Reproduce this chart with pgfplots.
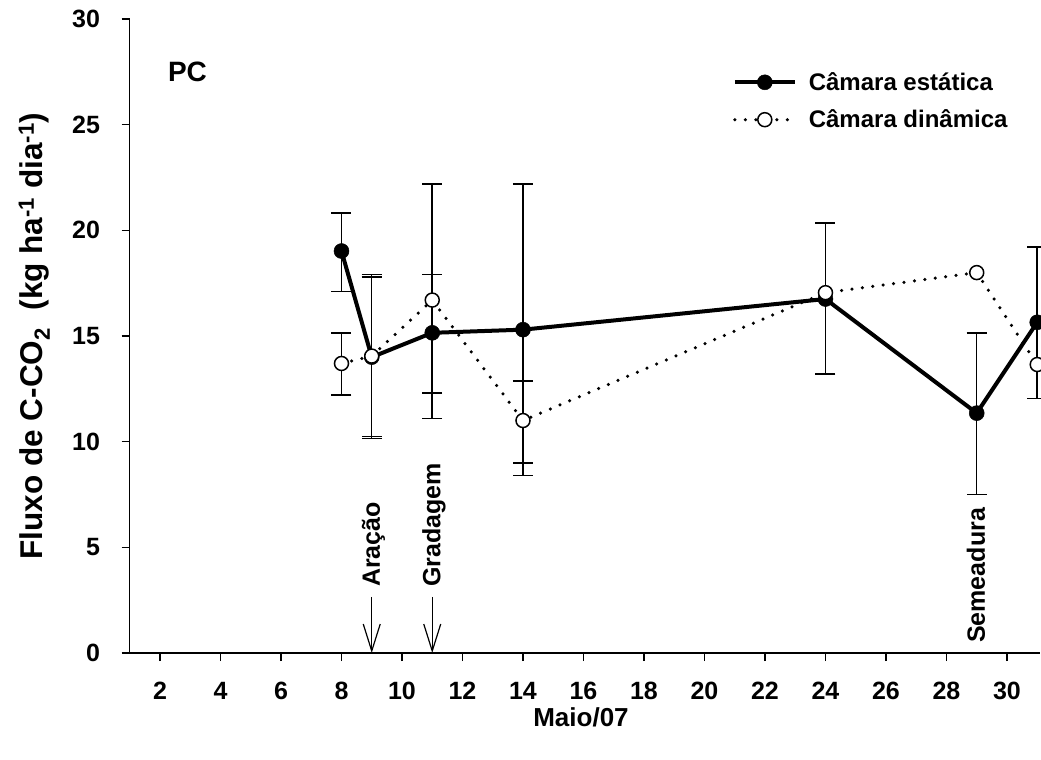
\documentclass[border=0pt]{standalone}
\usepackage{fontspec}
\setmainfont{Liberation Sans}
\usepackage{pgfplots}
\usepackage{pgfplotstable}
\pgfplotsset{compat=1.18}
\usetikzlibrary{arrows.meta}

\pgfplotstableread{
x y ep em
8 19.02 1.80 1.92
9 14.00 3.90 3.85
11 15.15 2.75 2.85
14 15.30 6.90 6.90
24 16.75 3.60 3.55
29 11.35 3.80 3.85
31 15.65 3.55 3.60
}\estatica
\pgfplotstableread{
x y ep em
8 13.70 1.45 1.50
9 14.05 3.75 3.80
11 16.70 5.50 5.60
14 11.00 1.87 2.00
}\dinamicaerr
\pgfplotstableread{
x y
8 13.70
9 14.05
11 16.70
14 11.00
24 17.05
29 18.00
31 13.65
}\dinamica

\newcommand{\tickfont}{\fontsize{25bp}{29bp}\selectfont\bfseries}
\begin{document}
\begin{tikzpicture}
\begin{axis}[
  name=ax,
  scale only axis,
  width=910.5bp, height=634bp,
  xmin=1, xmax=31.1, ymin=0, ymax=30,
  axis x line=bottom, axis y line=left,
  axis line style={-, line width=1.5bp, black},
  xtick={2,4,...,30}, ytick={0,5,...,30},
  xticklabels={2,4,6,8,10,12,14,16,18,20,22,24,26,28,30},
  yticklabels={0,5,10,15,20,25,30},
  tick align=outside, major tick length=8bp,
  tick style={line width=1.3bp, black},
  xticklabel style={font=\tickfont, inner sep=0pt, anchor=north},
  yticklabel style={font=\tickfont, inner sep=0pt, anchor=east},
  xticklabel shift=21bp,
  yticklabel shift=21.5bp,
  xlabel={Maio/07},
  ylabel={Fluxo de C-CO\textsubscript{2}\ \ (kg ha\textsuperscript{-1} dia\textsuperscript{-1})},
  xlabel style={font=\fontsize{26bp}{30bp}\selectfont\bfseries, at={(rel axis cs:0.4956,-0.1167)}, anchor=base, inner sep=0pt},
  ylabel style={font=\fontsize{31.5bp}{36bp}\selectfont\bfseries, at={(rel axis cs:-0.0953,0.5)}, anchor=base, inner sep=0pt},
  clip=false,
  legend style={draw=none, fill=none, at={(axis cs:20.93,26.12)}, anchor=west,
    font=\fontsize{24bp}{28bp}\selectfont\bfseries, row sep=14bp, inner sep=0pt},
  legend cell align=left,
  legend image code/.code={\draw[mark repeat=2,mark phase=2] plot coordinates {(0bp,0bp) (30bp,0bp) (60bp,0bp)};\path (70bp,0bp);},
]
\addplot[black, line width=4bp, line join=round, mark=*, mark size=7.5bp,
  mark options={solid, fill=black, line width=0.5bp},
  error bars/.cd, y dir=both, y explicit,
  error bar style={line width=1.5bp, black, solid},
  error mark options={rotate=90, mark size=10bp, line width=1.5bp, black, solid}]
  table[x=x, y=y, y error plus=ep, y error minus=em] {\estatica};
\addlegendentry{Câmara estática}
\addplot[forget plot, only marks, mark=none,
  error bars/.cd, y dir=both, y explicit,
  error bar style={line width=1.5bp, black, solid},
  error mark options={rotate=90, mark size=10bp, line width=1.5bp, black, solid}]
  table[x=x, y=y, y error plus=ep, y error minus=em] {\dinamicaerr};
\addplot[black, line width=3.5bp, line cap=round, dash pattern=on 0bp off 10.5bp,
  mark=*, mark size=7bp, mark options={solid, fill=white, draw=black, line width=1.5bp}]
  table[x=x, y=y] {\dinamica};
\addlegendentry{Câmara dinâmica}

\node[anchor=base west, inner sep=0pt, font=\fontsize{28bp}{32bp}\selectfont\bfseries] at (axis cs:2.26,27.02) {PC};
\node[rotate=90, anchor=base west, inner sep=0pt, font=\fontsize{25bp}{29bp}\selectfont\bfseries] at (axis cs:9.27,3.12) {Aração};
\node[rotate=90, anchor=base west, inner sep=0pt, font=\fontsize{25bp}{29bp}\selectfont\bfseries] at (axis cs:11.27,3.12) {Gradagem};
\node[rotate=90, anchor=base west, inner sep=0pt, font=\fontsize{25bp}{29bp}\selectfont\bfseries] at (axis cs:29.27,0.47) {Semeadura};
\draw[line width=1.2bp, -{Straight Barb[length=27bp, width=17bp]}] (axis cs:9,2.65) -- (axis cs:9,0);
\draw[line width=1.2bp, -{Straight Barb[length=27bp, width=17bp]}] (axis cs:11,2.65) -- (axis cs:11,0);
\end{axis}
\pgfresetboundingbox
\path[use as bounding box] ([shift={(-129.75bp,-107bp)}]ax.south west) rectangle ([shift={(911.25bp,653bp)}]ax.south west);
\end{tikzpicture}
\end{document}
